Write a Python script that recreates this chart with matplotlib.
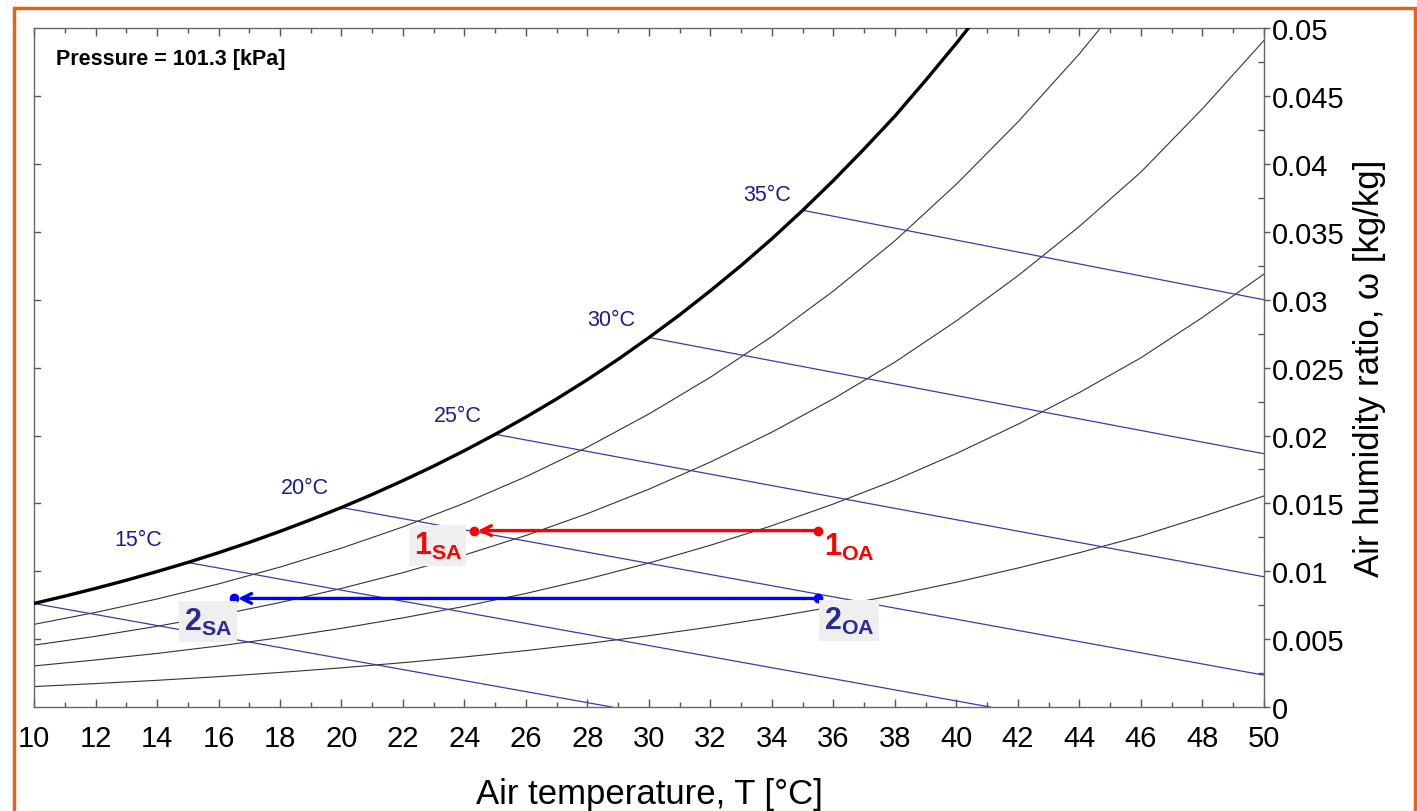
import numpy as np
import matplotlib
matplotlib.use("Agg")
import matplotlib.pyplot as plt
from matplotlib.patches import Rectangle
from matplotlib.ticker import MultipleLocator

plt.rcParams['font.family'] = ['Liberation Sans', 'DejaVu Sans']
plt.rcParams['mathtext.fontset'] = 'custom'
plt.rcParams['mathtext.rm'] = 'Liberation Sans'
plt.rcParams['mathtext.bf'] = 'Liberation Sans:bold'

# dry-bulb temperature grid [C]
T = [10, 12, 14, 16, 18, 20, 22, 24, 26, 28, 30, 32, 34, 36, 38, 40, 42, 44, 46, 48, 50]
T_sat = [10, 11, 12, 13, 14, 15, 16, 17, 18, 19, 20, 21, 22, 23, 24, 25, 26,
         27, 28, 29, 30, 31, 32, 33, 34, 35, 36, 37, 38, 39, 40, 41, 42]

# humidity ratio [kg/kg] on the saturation curve
w_sat = [0.00763, 0.00817, 0.00874, 0.00934, 0.00998, 0.01065, 0.01137, 0.01213,
         0.01294, 0.01380, 0.01470, 0.01566, 0.01668, 0.01775, 0.01889, 0.02009,
         0.02136, 0.02270, 0.02412, 0.02562, 0.02722, 0.02889, 0.03067, 0.03253,
         0.03450, 0.03659, 0.03879, 0.04112, 0.04353, 0.04617, 0.04890, 0.05177,
         0.05480]
# humidity ratio [kg/kg] along 80 / 60 / 40 / 20 % relative humidity
w_80 = [0.00609, 0.00697, 0.00796, 0.00907, 0.01031, 0.01171, 0.01327, 0.01502,
        0.01697, 0.01915, 0.02159, 0.02430, 0.02730, 0.03065, 0.03435, 0.03852,
        0.04310, 0.04812, 0.05368]
w_60 = [0.00456, 0.00521, 0.00595, 0.00677, 0.00770, 0.00874, 0.00990, 0.01120,
        0.01264, 0.01425, 0.01605, 0.01805, 0.02025, 0.02271, 0.02541, 0.02845,
        0.03177, 0.03541, 0.03941, 0.04407, 0.04910]
w_40 = [0.00303, 0.00347, 0.00395, 0.00450, 0.00511, 0.00580, 0.00657, 0.00742,
        0.00837, 0.00943, 0.01061, 0.01192, 0.01336, 0.01496, 0.01671, 0.01868,
        0.02083, 0.02317, 0.02573, 0.02870, 0.03189]
w_20 = [0.00151, 0.00173, 0.00197, 0.00224, 0.00255, 0.00289, 0.00327, 0.00369,
        0.00416, 0.00468, 0.00526, 0.00590, 0.00661, 0.00739, 0.00825, 0.00920,
        0.01024, 0.01137, 0.01260, 0.01403, 0.01555]

# constant wet-bulb lines: start on saturation, end at chart edge
wb_temps = [10, 15, 20, 25, 30, 35]
wb_w0 = [0.00763, 0.01065, 0.01470, 0.02009, 0.02722, 0.03659]
wb_T1 = [28.8, 41.1, 50, 50, 50, 50]
wb_w1 = [0.0, 0.0, 0.00235, 0.00960, 0.01866, 0.03000]
wb_labels = ['', '15°C', '20°C', '25°C', '30°C', '35°C']

# process states (outside air -> supply air)
case1_T = [35.5, 24.3]
case1_w = [0.0130, 0.0130]
case2_T = [35.5, 16.5]
case2_w = [0.0080, 0.0080]

fig = plt.figure(figsize=(14.17, 8.12), dpi=100)
ax = fig.add_axes([0.024, 0.128, 0.868, 0.836])

# saturation and relative humidity curves
ax.plot(T_sat, w_sat, color='black', lw=2.4, zorder=3)
for w in (w_80, w_60, w_40, w_20):
    ax.plot(T[:len(w)], w, color='#333333', lw=0.8, zorder=2)

# wet-bulb lines and their labels
wb_offsets = [(0, 0), (-50, 23), (-37, 20), (-37, 19), (-38, 18), (-36, 16)]
for tw, w0, t1, w1, lab, off in zip(wb_temps, wb_w0, wb_T1, wb_w1, wb_labels, wb_offsets):
    ax.plot([tw, t1], [w0, w1], color='#3b3ba8', lw=0.9, zorder=2)
    if lab:
        ax.annotate(lab, (tw, w0), xytext=off, textcoords='offset pixels',
                    ha='center', va='center', fontsize=15.5, color='#1c1c8c')

# processes with arrows
for Ts, ws, col in ((case1_T, case1_w, '#ff0000'), (case2_T, case2_w, '#0000ff')):
    ax.annotate('', xy=(Ts[1], ws[1]), xytext=(Ts[0], ws[0]),
                arrowprops=dict(arrowstyle='->,head_length=0.7,head_width=0.35',
                                color=col, lw=2.4, shrinkA=0, shrinkB=3),
                zorder=5)
    ax.plot(Ts, ws, 'o', color=col, ms=6, zorder=6)

box = dict(boxstyle='square,pad=0.15', facecolor='#efefef', edgecolor='none')
ax.annotate(r'$\mathbf{1_{SA}}$', (case1_T[1], case1_w[1]), xytext=(-36, -15),
            textcoords='offset pixels', ha='center', va='center', fontsize=22,
            color='#ff0000', bbox=box, zorder=7)
ax.annotate(r'$\mathbf{1_{OA}}$', (case1_T[0], case1_w[0]), xytext=(31, -16),
            textcoords='offset pixels', ha='center', va='center', fontsize=22,
            color='#ff0000', zorder=7)
ax.annotate(r'$\mathbf{2_{OA}}$', (case2_T[0], case2_w[0]), xytext=(31, -22),
            textcoords='offset pixels', ha='center', va='center', fontsize=22,
            color='#2b2b95', bbox=box, zorder=7)
ax.annotate(r'$\mathbf{2_{SA}}$', (case2_T[1], case2_w[1]), xytext=(-26, -23),
            textcoords='offset pixels', ha='center', va='center', fontsize=22,
            color='#2b2b95', bbox=box, zorder=7)

ax.text(0.018, 0.955, 'Pressure = 101.3 [kPa]', transform=ax.transAxes,
        fontsize=15.5, fontweight='bold', ha='left', va='center')

ax.set_xlim(10, 50)
ax.set_ylim(0, 0.05)

# x axis ticks inside, on bottom and top
ax.xaxis.set_major_locator(MultipleLocator(2))
ax.xaxis.set_minor_locator(MultipleLocator(1))
ax.tick_params(axis='x', which='both', direction='in', top=True, bottom=True,
               color='#555555', labelsize=21)
ax.tick_params(axis='x', which='major', length=6, width=1, pad=12)
ax.tick_params(axis='x', which='minor', length=3.5, width=1)

# y axis labelled on the right
ax.yaxis.set_major_locator(MultipleLocator(0.005))
ax.yaxis.set_minor_locator(MultipleLocator(0.0025))
ax.yaxis.tick_right()
ax.yaxis.set_label_position('right')
ax.tick_params(axis='y', which='major', direction='out', length=4, width=1,
               color='#555555', labelsize=21, pad=2, right=True, left=False)
ax.tick_params(axis='y', which='minor', direction='in', length=4, width=1,
               color='#555555', right=True, left=False)
ax.set_yticks(np.arange(0, 0.0501, 0.005))
ax.set_yticklabels(['0', '0.005', '0.01', '0.015', '0.02', '0.025', '0.03',
                    '0.035', '0.04', '0.045', '0.05'])
# short inward ticks on the left spine
for yv in np.arange(0.005, 0.05, 0.005):
    ax.plot([10, 10.2], [yv, yv], color='#555555', lw=1, clip_on=False, zorder=1)

for sp in ax.spines.values():
    sp.set_color('#666666')
    sp.set_linewidth(1)

ax.set_xlabel('Air temperature, T [°C]', fontsize=25, labelpad=18)
ax.set_ylabel('Air humidity ratio, ω [kg/kg]', fontsize=25, labelpad=6)

# orange frame around the figure
fig.patches.append(Rectangle((14 / 1417, -0.05), 1401 / 1417, 1.05 - 9 / 812,
                             transform=fig.transFigure, fill=False,
                             edgecolor='#e0651a', lw=2.5))

fig.savefig('out.png', dpi=100)
